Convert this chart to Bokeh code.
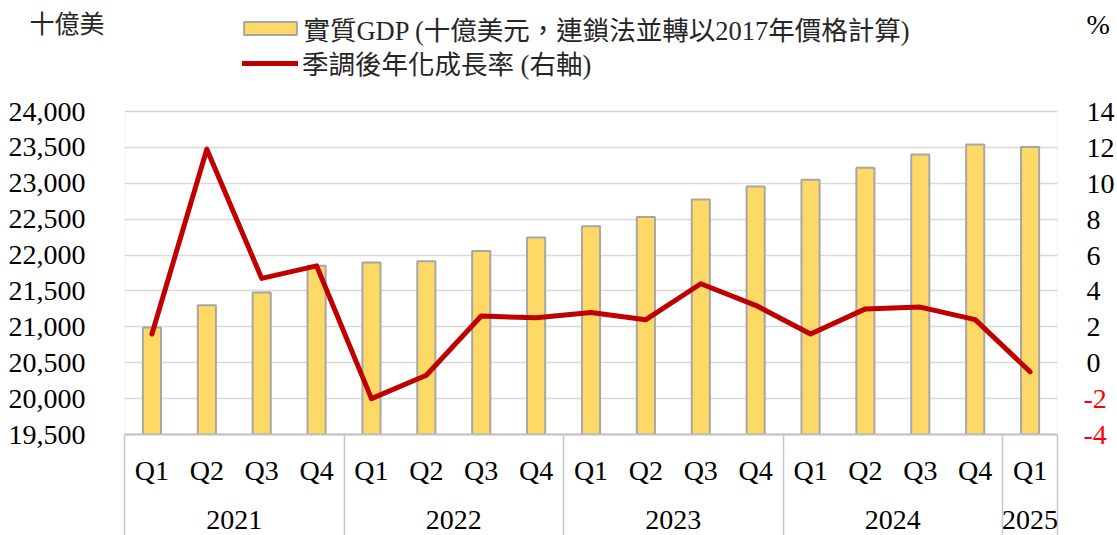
from bokeh.plotting import figure
from bokeh.models import (Range1d, LinearAxis, FixedTicker, NumeralTickFormatter, Grid,
                          Legend, LegendItem, ColumnDataSource, BoxAnnotation)
from bokeh.embed import file_html
from bokeh.resources import INLINE

# ---- data ----
years = ["2021"] * 4 + ["2022"] * 4 + ["2023"] * 4 + ["2024"] * 4 + ["2025"]
quarters = ["Q1", "Q2", "Q3", "Q4"] * 4 + ["Q1"]
gdp = [20990, 21300, 21480, 21850, 21895, 21915, 22055, 22245,
       22400, 22530, 22775, 22955, 23050, 23215, 23400, 23540, 23505]
growth = [1.6, 11.9, 4.7, 5.4, -2.0, -0.7, 2.6, 2.5,
          2.8, 2.4, 4.4, 3.2, 1.6, 3.0, 3.1, 2.4, -0.5]
left_ticks = [19500, 20000, 20500, 21000, 21500, 22000, 22500, 23000, 23500, 24000]
right_ticks = [-4, -2, 0, 2, 4, 6, 8, 10, 12, 14]
bar_label = "實質GDP (十億美元，連鎖法並轉以2017年價格計算)"
line_label = "季調後年化成長率 (右軸)"
left_unit = "十億美"
right_unit = "%"

SERIF = "Liberation Serif"
MIXED = "'Liberation Serif', 'Noto Sans CJK TC'"
TXT = "#262626"

# ---- layout (pixels) ----
W, H = 1117, 535
PLOT_L, PLOT_R, PLOT_T, PLOT_B = 124, 1059, 111, 434   # visible plot-area box
CAPTION_Y = 24                                          # row of the unit captions

n = len(quarters)
xpos = [i + 0.5 for i in range(n)]          # category slot centres
src = ColumnDataSource(dict(x=xpos, gdp=gdp, growth=growth))

# frame reaches the top of the canvas so the legend can live inside it
lo, hi = left_ticks[0], left_ticks[-1]
per_px = (hi - lo) / (PLOT_B - PLOT_T)
y_top = hi + PLOT_T * per_px
rlo, rhi = right_ticks[0], right_ticks[-1]
rper_px = (rhi - rlo) / (PLOT_B - PLOT_T)
r_top = rhi + PLOT_T * rper_px
cap_left = hi + (PLOT_T - CAPTION_Y) * per_px
cap_right = rhi + (PLOT_T - CAPTION_Y) * rper_px

p = figure(width=W, height=H,
           x_range=Range1d(0, n),
           y_range=Range1d(lo, y_top),
           x_axis_location=None, y_axis_location=None,
           output_backend="svg", toolbar_location=None,
           min_border_left=PLOT_L, min_border_right=W - PLOT_R,
           min_border_top=0, min_border_bottom=H - PLOT_B)
p.extra_y_ranges = {"right": Range1d(rlo, r_top)}

p.outline_line_color = None
p.background_fill_color = "white"
p.border_fill_color = "white"

# grid
p.xgrid.visible = False
p.ygrid.visible = False
p.add_layout(Grid(dimension=1, ticker=FixedTicker(ticks=left_ticks),
                  grid_line_color="#D9D9D9", grid_line_width=1.5))

bars = p.vbar(x="x", top="gdp", bottom=lo, width=0.33, source=src,
              fill_color="#FFD966", line_color="#A6A6A6", line_width=2)
line = p.line(x="x", y="growth", source=src, y_range_name="right",
              line_color="#C00000", line_width=5, line_join="round", line_cap="round")

# plot-area border
p.add_layout(BoxAnnotation(left=0, right=n, bottom=lo, top=hi, fill_alpha=0,
                           line_color="#C8C8C8", line_width=1.5, level="underlay"))


def plain(ax, size="28px", color="black", font=SERIF):
    ax.axis_line_color = None
    ax.major_tick_line_color = None
    ax.minor_tick_line_color = None
    ax.major_tick_out = 0
    ax.major_tick_in = 0
    ax.minor_tick_out = 0
    ax.minor_tick_in = 0
    ax.major_label_text_font = font
    ax.major_label_text_font_size = size
    ax.major_label_text_color = color


# ---- left side: caption (nearest), then value labels ----
ul = LinearAxis(ticker=FixedTicker(ticks=[cap_left]))
plain(ul, size="25px", color=TXT, font=MIXED)
ul.major_label_overrides = {cap_left: left_unit}
ul.major_label_standoff = 20
p.add_layout(ul, "left")

ya = LinearAxis(ticker=FixedTicker(ticks=left_ticks), formatter=NumeralTickFormatter(format="0,0"))
plain(ya)
ya.major_label_standoff = -59
p.add_layout(ya, "left")

# ---- right side: red negatives (nearest), black others + caption at the same x ----
neg = [t for t in right_ticks if t < 0]
pos = [t for t in right_ticks if t >= 0]
ra_red = LinearAxis(y_range_name="right", ticker=FixedTicker(ticks=neg))
plain(ra_red, color="#FF0000")
ra_red.major_label_overrides = {t: str(t) for t in neg}   # plain hyphen as in the source
ra_red.major_label_standoff = 26
p.add_layout(ra_red, "right")

ra_blk = LinearAxis(y_range_name="right", ticker=FixedTicker(ticks=pos + [cap_right]))
plain(ra_blk)
ra_blk.major_label_overrides = {cap_right: right_unit}
ra_blk.major_label_standoff = -23
p.add_layout(ra_blk, "right")

# ---- bottom: separators, quarters, years ----
bounds = [0] + [i for i in range(1, n) if years[i] != years[i - 1]] + [n]
centers = [(bounds[i] + bounds[i + 1]) / 2 for i in range(len(bounds) - 1)]
group_names = [years[b] for b in bounds[:-1]]

sep = LinearAxis(ticker=FixedTicker(ticks=bounds))
sep.axis_line_color = "#BFBFBF"
sep.axis_line_width = 2
sep.major_tick_line_color = "#C8C8C8"
sep.major_tick_line_width = 1.5
sep.major_tick_out = H - PLOT_B
sep.major_tick_in = 0
sep.minor_tick_line_color = None
sep.major_label_overrides = {b: " " for b in bounds}
sep.major_label_text_font_size = "1px"
sep.major_label_standoff = -(H - PLOT_B)
p.add_layout(sep, "below")

qa = LinearAxis(ticker=FixedTicker(ticks=xpos))
plain(qa)
qa.major_label_overrides = {x: q for x, q in zip(xpos, quarters)}
qa.major_label_standoff = 16
p.add_layout(qa, "below")

ya2 = LinearAxis(ticker=FixedTicker(ticks=centers))
plain(ya2)
ya2.major_label_overrides = {c: g for c, g in zip(centers, group_names)}
ya2.major_label_standoff = 22
p.add_layout(ya2, "below")

# ---- legends (inside the tall frame, above the plot-area box) ----
leg_common = dict(padding=0, margin=0, spacing=0, border_line_color=None,
                  background_fill_alpha=0, label_text_font=MIXED,
                  label_text_font_size="26.5px", label_text_color=TXT, label_height=34)
leg1 = Legend(items=[LegendItem(label=bar_label, renderers=[bars])],
              location=(113.4, PLOT_B - 32.5 - 15), glyph_width=66, glyph_height=16,
              label_standoff=0, **leg_common)
leg2 = Legend(items=[LegendItem(label=line_label, renderers=[line])],
              location=(118, PLOT_B - 66 - 16), glyph_width=56, glyph_height=16,
              label_standoff=4, **leg_common)
p.add_layout(leg1)
p.add_layout(leg2)

open("out.html", "w").write(file_html(p, INLINE))
